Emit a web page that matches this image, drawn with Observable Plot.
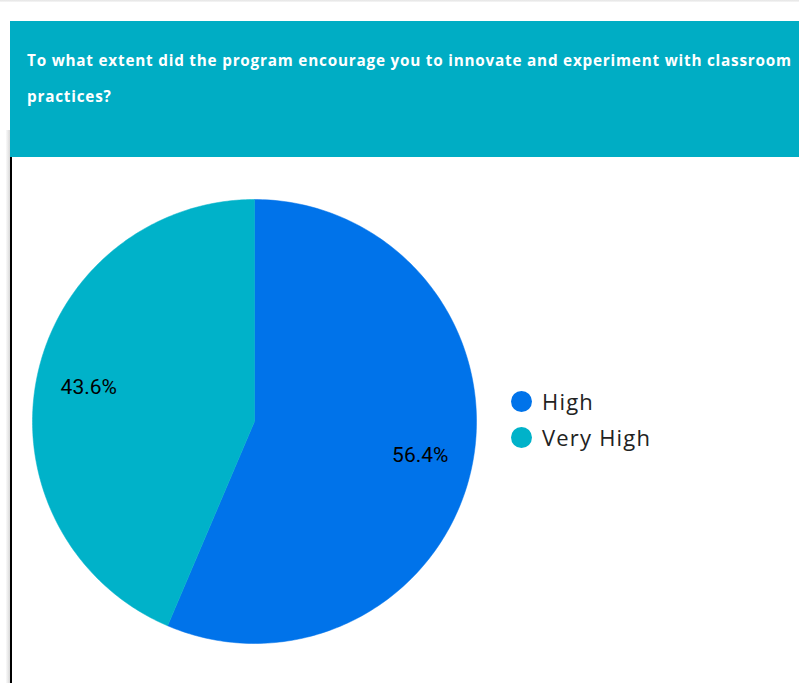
<!DOCTYPE html>
<html>
<head>
<meta charset="utf-8">
<script src="https://cdn.jsdelivr.net/npm/d3@7"></script>
<script src="https://cdn.jsdelivr.net/npm/@observablehq/plot@0.6"></script>
<style>
  html, body { margin: 0; padding: 0; background: #fff; width: 799px; height: 683px; overflow: hidden; }
  #topshadow { position: absolute; left: 0; top: 0; width: 799px; height: 2px; background: linear-gradient(#e4e4e4, #f6f6f6); }
  #leftshadow { position: absolute; left: 6px; top: 130px; width: 4px; height: 553px; background: linear-gradient(to right, #fafafa, #d8d8d8); }
  #leftline { position: absolute; left: 10px; top: 130px; width: 2px; height: 553px; background: #000; }
  #header { position: absolute; left: 10px; top: 21px; width: 789px; height: 136px; background: #00adc4; }
  #title { position: absolute; left: 17px; top: 21px; color: #fff; font-family: "Open Sans", sans-serif; font-weight: 700; font-size: 15.3px; line-height: 36px; white-space: nowrap; letter-spacing: 0.78px; }
  #chart { position: absolute; left: 11px; top: 157px; }
  #legend { position: absolute; left: 511px; top: 383px; font-family: "Open Sans", sans-serif; font-size: 22px; color: #222; letter-spacing: 1.2px; }
  .item { display: flex; align-items: center; height: 36px; }
  .sw { width: 21px; height: 21px; border-radius: 50%; margin-right: 10px; }
</style>
</head>
<body>
<div id="topshadow"></div>
<div id="leftshadow"></div>
<div id="leftline"></div>
<div id="header"><div id="title"></div></div>
<div id="chart"></div>
<div id="legend"></div>
<script>
const titleLines = ["To what extent did the program encourage you to innovate and experiment with classroom", "practices?"];
const categories = ["High", "Very High"];
const values = [56.4, 43.6];
const labels = ["56.4%", "43.6%"];
const colors = ["#0073ea", "#00b2c9"];

document.getElementById("title").innerHTML = titleLines.join("<br>");

const data = categories.map((c, i) => ({category: c, value: values[i], label: labels[i]}));
const arcs = d3.pie().sort(null).value(d => d.value)(data);

// polygon points in unit-radius space (angle clockwise from 12 o'clock)
const pts = [];
arcs.forEach(a => {
  const n = 200;
  pts.push({category: a.data.category, x: 0, y: 0});
  for (let k = 0; k <= n; k++) {
    const t = a.startAngle + (a.endAngle - a.startAngle) * k / n;
    pts.push({category: a.data.category, x: Math.sin(t), y: Math.cos(t)});
  }
  pts.push({category: a.data.category, x: 0, y: 0});
});
const labelPts = arcs.map(a => {
  const m = (a.startAngle + a.endAngle) / 2;
  return {label: a.data.label, x: 0.762 * Math.sin(m), y: 0.762 * Math.cos(m)};
});

const W = 788, H = 526, R = 222, cx = 243, cy = 264;
const chart = Plot.plot({
  width: W, height: H,
  margin: 0,
  x: {domain: [-cx / R, (W - cx) / R], axis: null},
  y: {domain: [-(H - cy) / R, cy / R], axis: null},
  color: {domain: categories, range: colors},
  marks: [
    Plot.line(pts, {x: "x", y: "y", z: "category", fill: "category", stroke: "category", strokeWidth: 0.5, curve: "linear"}),
    Plot.text(labelPts, {x: "x", y: "y", text: "label", fill: "#000", fontSize: 21, fontFamily: "Roboto, sans-serif"})
  ]
});
document.getElementById("chart").appendChild(chart);

const legend = document.getElementById("legend");
categories.forEach((c, i) => {
  const item = document.createElement("div");
  item.className = "item";
  item.innerHTML = `<div class="sw" style="background:${colors[i]}"></div><span>${c}</span>`;
  legend.appendChild(item);
});
</script>
</body>
</html>
